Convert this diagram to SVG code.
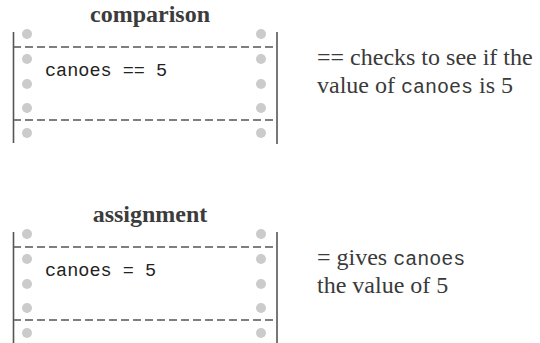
<svg xmlns="http://www.w3.org/2000/svg" width="540" height="343" viewBox="0 0 540 343">
  <defs>
    <style>
      .title { font-family: "Liberation Serif", "Times New Roman", serif; font-weight: bold; font-size: 24px; fill: #3c3c3c; text-anchor: middle; }
      .code { font-family: "Liberation Mono", "Courier New", monospace; font-size: 18.5px; fill: #222; }
      .desc { font-family: "Liberation Serif", "Times New Roman", serif; font-size: 24px; fill: #3a3a3a; }
      .desc .mono { font-family: "Liberation Mono", "Courier New", monospace; font-size: 20px; }
      .bar { stroke: #555; stroke-width: 1.6; fill: none; }
      .dash { stroke: #555; stroke-width: 1.6; stroke-dasharray: 8 4; fill: none; }
      .dot { fill: #cbcbcb; }
    </style>
    <g id="dots">
      <circle class="dot" cx="27" cy="34" r="5"/>
      <circle class="dot" cx="27" cy="59" r="5"/>
      <circle class="dot" cx="27" cy="84" r="5"/>
      <circle class="dot" cx="27" cy="108" r="5"/>
      <circle class="dot" cx="27" cy="133" r="5"/>
      <circle class="dot" cx="261" cy="34" r="5"/>
      <circle class="dot" cx="261" cy="59" r="5"/>
      <circle class="dot" cx="261" cy="84" r="5"/>
      <circle class="dot" cx="261" cy="108" r="5"/>
      <circle class="dot" cx="261" cy="133" r="5"/>
    </g>
    <g id="paper">
      <use href="#dots"/>
      <line class="bar" x1="13.5" y1="32" x2="13.5" y2="143"/>
      <line class="bar" x1="277" y1="32" x2="277" y2="144"/>
      <line class="dash" x1="13" y1="47" x2="277" y2="47"/>
      <line class="dash" x1="13" y1="120" x2="277" y2="120"/>
    </g>
  </defs>

  <g id="comparison">
    <text class="title" x="150" y="22">comparison</text>
    <use href="#paper"/>
    <text class="code" x="45" y="76" xml:space="preserve">canoes == 5</text>
  </g>

  <g id="comparison-note">
    <text class="desc" x="317" y="65">== checks to see if the</text>
    <text class="desc" x="317" y="93">value of <tspan class="mono">canoes</tspan> is 5</text>
  </g>

  <g id="assignment" transform="translate(0,200)">
    <text class="title" x="150" y="22">assignment</text>
    <use href="#paper"/>
    <text class="code" x="45" y="76" xml:space="preserve">canoes = 5</text>
  </g>

  <g id="assignment-note">
    <text class="desc" x="317" y="265">= gives <tspan class="mono">canoes</tspan></text>
    <text class="desc" x="317" y="293">the value of 5</text>
  </g>

  <g id="connectors"/>
</svg>
